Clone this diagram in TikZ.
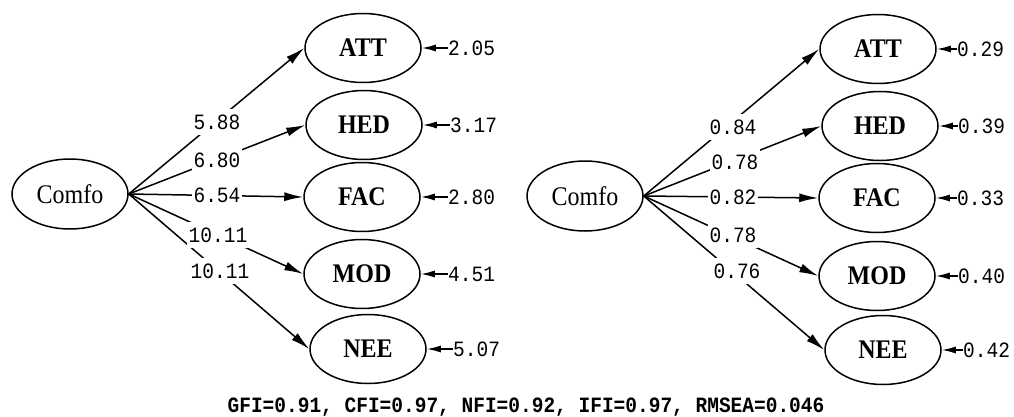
\documentclass[tikz,border=0pt]{standalone}
\usepackage{fontspec}
\setmainfont{Liberation Serif}
\setmonofont{Liberation Mono}
\usepackage{graphicx}
\usetikzlibrary{arrows.meta,shapes.geometric}
\newcommand{\vsc}[1]{\scalebox{1}[1.12]{#1}}
\tikzset{
  lat/.style={ellipse,draw,line width=1.5pt,minimum width=116pt,minimum height=69pt,inner sep=0pt,
    font=\fontsize{24}{24}\selectfont\bfseries},
  com/.style={ellipse,draw,line width=1.5pt,minimum width=116pt,minimum height=70pt,inner sep=0pt,
    font=\fontsize{24}{24}\selectfont},
  num/.style={font=\fontsize{19.5}{20}\selectfont\ttfamily,inner sep=0pt,anchor=west},
  lbl/.style={font=\fontsize{19.5}{20}\selectfont\ttfamily,fill=white,inner xsep=2pt,inner ysep=6pt},
  conn/.style={line width=1.5pt,-{Latex[length=19pt,width=9pt]}},
  res/.style={line width=1.5pt,-{Latex[length=14pt,width=7pt]}},
  foot/.style={font=\fontsize{19.5}{20}\selectfont\ttfamily\bfseries,inner sep=0pt}
}
\begin{document}
\begin{tikzpicture}[x=1pt,y=-1pt]
\useasboundingbox (0,0) rectangle (1014,417);
% ---------- left model ----------
\node[com] (cL) at (70,194) {\vsc{Comfo}};
\node[lat] (attL) at (363,48) {\vsc{ATT}};
\node[lat] (hedL) at (364,125) {\vsc{HED}};
\node[lat] (facL) at (362,197) {\vsc{FAC}};
\node[lat] (modL) at (362,274) {\vsc{MOD}};
\node[lat] (neeL) at (368,349) {\vsc{NEE}};
\draw[conn] (cL.east) -- (attL.west);
\draw[conn] (cL.east) -- (hedL.west);
\draw[conn] (cL.east) -- (facL.west);
\draw[conn] (cL.east) -- (modL.west);
\draw[conn] (cL.east) -- (neeL.west);
\node[lbl] (l1) at (217,122) {\vsc{5.88}};
\node[lbl] (l2) at (217,160) {\vsc{6.80}};
\node[lbl] (l3) at (217,195) {\vsc{6.54}};
\node[lbl] (l4) at (218,235) {\vsc{10.11}};
\node[lbl] (l5) at (220,271) {\vsc{10.11}};
\node[num] (r1) at (448,48) {\vsc{2.05}};
\node[num] (r2) at (450,125) {\vsc{3.17}};
\node[num] (r3) at (448,197) {\vsc{2.80}};
\node[num] (r4) at (448,274) {\vsc{4.51}};
\node[num] (r5) at (453,349) {\vsc{5.07}};
\draw[res] (r1.west) -- (attL.east);
\draw[res] (r2.west) -- (hedL.east);
\draw[res] (r3.west) -- (facL.east);
\draw[res] (r4.west) -- (modL.east);
\draw[res] (r5.west) -- (neeL.east);
% ---------- right model ----------
\node[com] (cR) at (585,196) {\vsc{Comfo}};
\node[lat] (attR) at (878,49) {\vsc{ATT}};
\node[lat] (hedR) at (880,126) {\vsc{HED}};
\node[lat] (facR) at (877,198) {\vsc{FAC}};
\node[lat] (modR) at (877,276) {\vsc{MOD}};
\node[lat] (neeR) at (883,350) {\vsc{NEE}};
\draw[conn] (cR.east) -- (attR.west);
\draw[conn] (cR.east) -- (hedR.west);
\draw[conn] (cR.east) -- (facR.west);
\draw[conn] (cR.east) -- (modR.west);
\draw[conn] (cR.east) -- (neeR.west);
\node[lbl] (m1) at (733,127) {\vsc{0.84}};
\node[lbl] (m2) at (735,162) {\vsc{0.78}};
\node[lbl] (m3) at (733,197) {\vsc{0.82}};
\node[lbl] (m4) at (733,235) {\vsc{0.78}};
\node[lbl] (m5) at (737,271) {\vsc{0.76}};
\node[num] (s1) at (957,49) {\vsc{0.29}};
\node[num] (s2) at (958,126) {\vsc{0.39}};
\node[num] (s3) at (957,198) {\vsc{0.33}};
\node[num] (s4) at (958,276) {\vsc{0.40}};
\node[num] (s5) at (963,350) {\vsc{0.42}};
\draw[res] (s1.west) -- (attR.east);
\draw[res] (s2.west) -- (hedR.east);
\draw[res] (s3.west) -- (facR.east);
\draw[res] (s4.west) -- (modR.east);
\draw[res] (s5.west) -- (neeR.east);
% ---------- fit indices ----------
\node[foot] (fit) at (526,407) {\vsc{GFI=0.91, CFI=0.97, NFI=0.92, IFI=0.97, RMSEA=0.046}};
\end{tikzpicture}
\end{document}
